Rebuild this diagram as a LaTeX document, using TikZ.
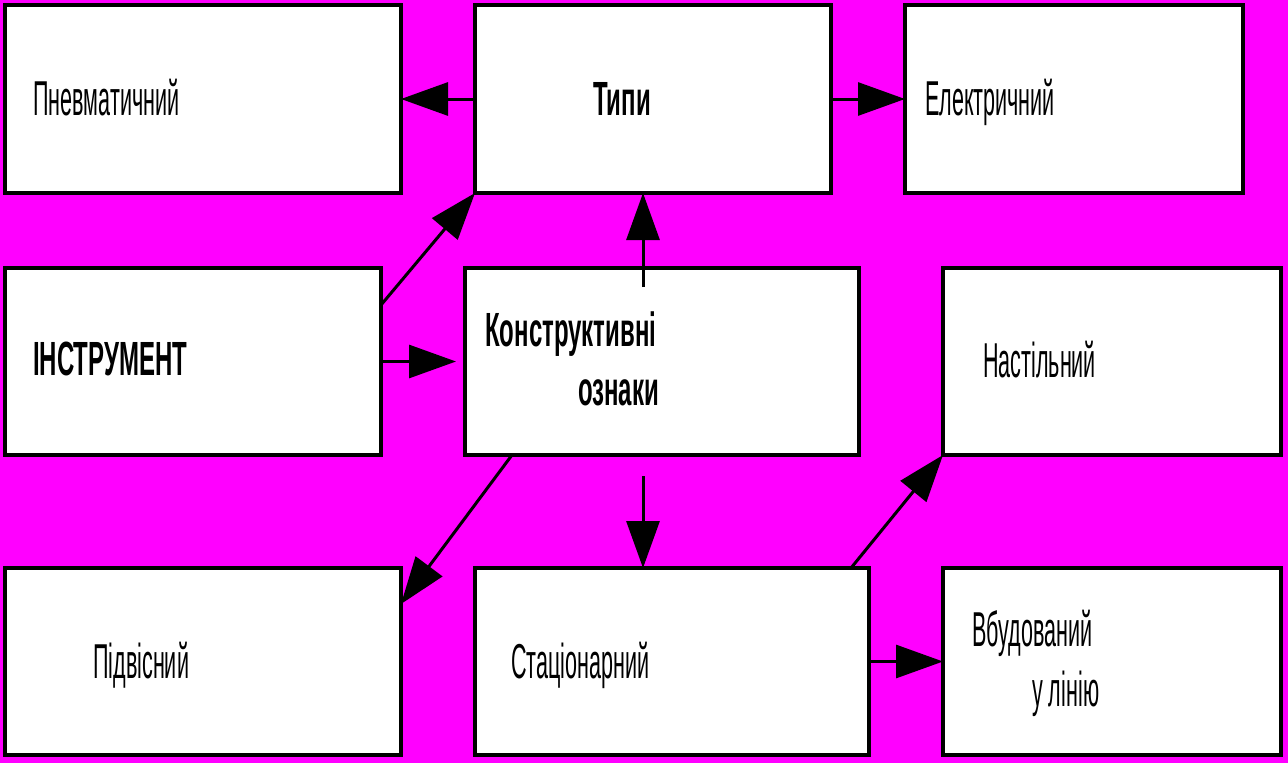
\documentclass[tikz,border=0pt]{standalone}
\usepackage{fontspec}
\setmainfont{Liberation Sans}[FakeStretch=0.44, BoldFeatures={FakeStretch=0.5}]
\usetikzlibrary{arrows.meta}
\definecolor{bg}{RGB}{255,0,255}
\tikzset{
  box/.style={draw=black, fill=white, line width=3.5pt, rectangle, inner sep=0pt, outer sep=0pt, anchor=north west},
  lbl/.style={anchor=base west, inner sep=0pt, font=\fontsize{49}{52}\selectfont},
  blbl/.style={lbl, font=\fontsize{48}{52}\selectfont\bfseries},
  conn/.style={line width=3pt, -{Triangle[length=47pt,width=33pt]}}
}
\begin{document}
\begin{tikzpicture}[x=1pt,y=-1pt]
\fill[bg] (0,0) rectangle (1288,763);
\useasboundingbox (0,0) rectangle (1288,763);
% boxes
\node[box, minimum width=396pt, minimum height=188pt] (pn) at (5,5) {};
\node[box, minimum width=356pt, minimum height=188pt] (ty) at (475,5) {};
\node[box, minimum width=338pt, minimum height=188pt] (el) at (905,5) {};
\node[box, minimum width=376pt, minimum height=187pt] (in) at (5,268) {};
\node[box, minimum width=394pt, minimum height=187pt] (ko) at (465,268) {};
\node[box, minimum width=338pt, minimum height=187pt] (na) at (943,268) {};
\node[box, minimum width=396pt, minimum height=187pt] (pi) at (5,568) {};
\node[box, minimum width=394pt, minimum height=187pt] (st) at (475,568) {};
\node[box, minimum width=338pt, minimum height=187pt] (vb) at (943,568) {};
% labels
\node[lbl] (tpn) at (33,115) {Пневматичний};
\node[blbl] (tty) at (593,115) {Типи};
\node[lbl] (tel) at (925,115) {Електричний};
\node[blbl] (tin) at (33,375) {ІНСТРУМЕНТ};
\node[blbl] (tko1) at (485,346) {Конструктивні};
\node[blbl] (tko2) at (578,405) {ознаки};
\node[lbl] (tna) at (983,377) {Настільний};
\node[lbl] (tpi) at (93,678) {Підвісний};
\node[lbl] (tst) at (511,678) {Стаціонарний};
\node[lbl] (tvb1) at (972,646) {Вбудований};
\node[lbl] (tvb2) at (1032,706) {у лінію};
% connector anchors
\coordinate (kup) at (643,287);
\coordinate (kdn) at (643,476);
% connectors
\draw[conn] (ty.west) -- (pn.east);
\draw[conn] (ty.east) -- (el.west);
\draw[conn] ([yshift=-37pt]in.north east) -- (ty.south west);
\draw[conn] (in.east) -- ([xshift=-9pt]ko.west);
\draw[conn] (kup) -- (kup |- ty.south);
\draw[conn] ([xshift=47pt]ko.south west) -- ([yshift=-36pt]pi.north east);
\draw[conn] (kdn) -- (kdn |- st.north);
\draw[conn] ([xshift=-18pt]st.north east) -- (na.south west);
\draw[conn] (st.east) -- (vb.west);
\end{tikzpicture}
\end{document}
